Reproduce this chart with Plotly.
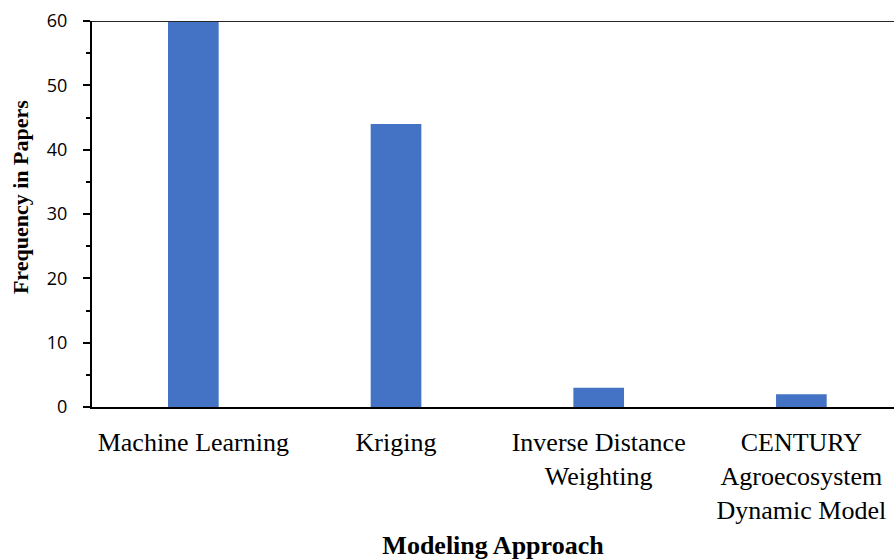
import plotly.graph_objects as go

categories = ["Machine Learning", "Kriging", "Inverse Distance<br>Weighting",
              "CENTURY<br>Agroecosystem<br>Dynamic Model"]
frequency = [60, 44, 3, 2]
y_ticks = [0, 10, 20, 30, 40, 50, 60]

fig = go.Figure()
fig.add_trace(go.Bar(x=categories, y=frequency, width=0.25,
                     marker=dict(color="#4472C4", line=dict(width=0))))

serif = "Liberation Serif"
fig.update_layout(
    width=894, height=560,
    margin=dict(l=92, r=0, t=21, b=153),
    paper_bgcolor="white", plot_bgcolor="white",
    showlegend=False,
    xaxis=dict(
        type="category", range=[-0.5, 3.457],
        showline=True, linecolor="black", linewidth=2,
        ticks="", showgrid=False, zeroline=False,
        tickfont=dict(family=serif, size=26, color="black"),
        ticklabelstandoff=11,
        title=dict(text="<b>Modeling Approach</b>", font=dict(family=serif, size=26, color="black"),
                   standoff=15),
    ),
    yaxis=dict(
        range=[0, 60], tickvals=y_ticks,
        showline=True, linecolor="black", linewidth=2,
        ticks="outside", ticklen=7, tickwidth=1.5, tickcolor="black",
        minor=dict(ticks="outside", ticklen=4, dtick=5, tickwidth=1.5, tickcolor="black", showgrid=False),
        showgrid=False, zeroline=False,
        tickfont=dict(family="Open Sans", size=18, color="black"),
        ticklabelstandoff=12,
    ),
    annotations=[dict(text="<b>Frequency in Papers</b>", textangle=-90,
                      xref="paper", yref="y", x=-0.09, y=32.6,
                      xanchor="center", yanchor="middle", showarrow=False,
                      font=dict(family=serif, size=22, color="black"))],
    shapes=[dict(type="line", xref="paper", yref="y", x0=0, x1=1, y0=60, y1=60,
                 line=dict(color="#262626", width=2))],
)

fig.write_html("out.html", config={"displayModeBar": False},
               post_script="document.body.style.margin='0';document.body.style.overflow='hidden';")
